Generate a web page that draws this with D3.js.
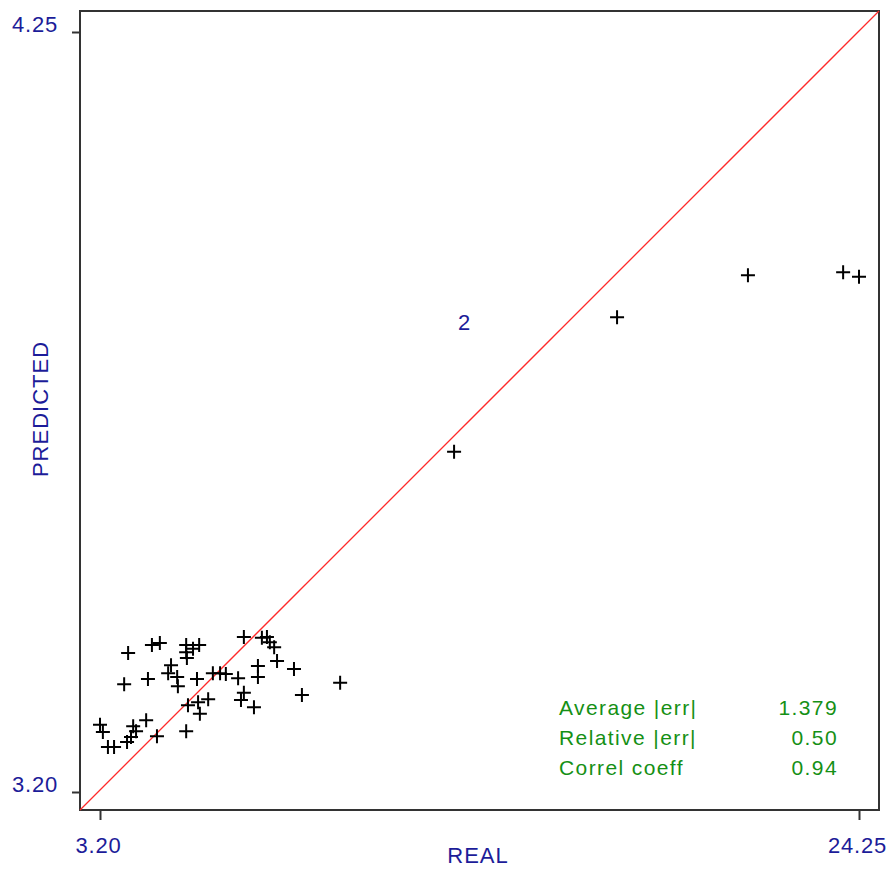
<!DOCTYPE html>
<html lang="en">

<head>
    <meta charset="UTF-8" />
    <script src="https://d3js.org/d3.v7.min.js"></script>
    <title>Predicted vs Real</title>
    <style>
        body { margin: 0; background: #fff; }
        text { font-family: "Liberation Sans", Arial, sans-serif; }
    </style>
</head>

<body>
    <script>
        // values
        var realValues = [3.98, 4.64, 4.86, 5.59, 5.78, 5.95, 5.59, 5.61, 7.19, 7.69, 7.83, 7.91, 8.03, 8.11, 7.58, 7.58,
            8.58, 9.86, 8.80, 5.17, 5.09, 5.34, 5.36, 5.89, 6.33, 6.53, 6.69, 7.03, 3.87, 4.53, 7.19, 7.11, 7.47,
            5.64, 5.92, 6.20, 5.97, 4.48, 3.20, 3.28, 4.12, 4.20, 4.06, 3.95, 3.42, 3.59, 4.78, 5.59,
            13.02, 17.54, 21.17, 23.81, 24.25];
        var predictedValues = [3.392, 3.403, 3.406, 3.403, 3.398, 3.403, 3.393, 3.385, 3.414, 3.413, 3.414, 3.407, 3.400, 3.381, 3.374, 3.359,
            3.370, 3.351, 3.334, 3.375, 3.364, 3.359, 3.346, 3.356, 3.364, 3.364, 3.363, 3.357, 3.349, 3.356, 3.337, 3.327, 3.317,
            3.320, 3.324, 3.328, 3.308, 3.299, 3.293, 3.283, 3.291, 3.284, 3.276, 3.269, 3.262, 3.262, 3.277, 3.284,
            3.670, 3.856, 3.914, 3.918, 3.912];
        var xTicks = [3.20, 24.25];
        var yTicks = [3.20, 4.25];
        var statLabels = ["Average |err|", "Relative |err|", "Correl coeff"];
        var statValues = ["1.379", "0.50", "0.94"];
        var cornerNote = "2";

        var width = 891, height = 869;
        var box = { left: 80, top: 11, right: 879, bottom: 810 };
        var blue = "#1c1c99", green = "#159015";

        var svg = d3.select("body").append("svg")
            .attr("width", width)
            .attr("height", height);

        var x = d3.scaleLinear().domain([3.20, 24.25]).range([100, 859]);
        var y = d3.scaleLinear().domain([3.20, 4.25]).range([792, 32]);
        var fmt = d3.format(".2f");

        // frame
        svg.append("rect")
            .attr("x", box.left).attr("y", box.top)
            .attr("width", box.right - box.left).attr("height", box.bottom - box.top)
            .attr("fill", "none").attr("stroke", "#333").attr("stroke-width", 2);

        // diagonal reference line, corner to corner
        svg.append("line")
            .attr("x1", box.left).attr("y1", box.bottom)
            .attr("x2", box.right).attr("y2", box.top)
            .attr("stroke", "#ff2a2a").attr("stroke-width", 1.3);

        // axes
        var yAxis = svg.append("g").attr("transform", "translate(" + box.left + ",0)")
            .call(d3.axisLeft(y).tickValues(yTicks).tickFormat(fmt).tickSize(8).tickSizeOuter(0));
        var xAxis = svg.append("g").attr("transform", "translate(0," + box.bottom + ")")
            .call(d3.axisBottom(x).tickValues(xTicks).tickFormat(fmt).tickSize(10).tickSizeOuter(0));

        [xAxis, yAxis].forEach(function (g) {
            g.select(".domain").remove();
            g.selectAll(".tick line").attr("stroke", "#333").attr("stroke-width", 2);
            g.selectAll(".tick text").attr("fill", blue).style("font-size", "22px")
                .style("letter-spacing", "0.8px")
                .style("font-family", "'Liberation Sans', Arial, sans-serif");
        });
        yAxis.selectAll(".tick text").attr("x", -22).attr("dy", "-1");
        xAxis.selectAll(".tick text").attr("y", 43).attr("dy", "0").attr("dx", -2);

        // axis titles
        svg.append("text").attr("x", 478).attr("y", 863)
            .attr("text-anchor", "middle").attr("fill", blue).style("font-size", "22px")
            .style("letter-spacing", "1px")
            .text("REAL");
        svg.append("text")
            .attr("transform", "translate(48,409) rotate(-90)")
            .attr("text-anchor", "middle").attr("fill", blue).style("font-size", "22px")
            .style("letter-spacing", "1px")
            .text("PREDICTED");

        svg.append("text").attr("x", 464).attr("y", 330)
            .attr("text-anchor", "middle").attr("fill", blue).style("font-size", "22px")
            .text(cornerNote);

        // points as plus markers
        var pts = realValues.map(function (v, i) { return { real: v, pred: predictedValues[i] }; });
        svg.append("g").selectAll("path").data(pts)
            .enter().append("path")
            .attr("transform", function (d) { return "translate(" + x(d.real) + "," + y(d.pred) + ")"; })
            .attr("d", "M-7,0H7M0,-7V7")
            .attr("stroke", "#000").attr("stroke-width", 2).attr("fill", "none");

        // stats block
        var stats = svg.append("g").selectAll("g").data(statLabels)
            .enter().append("g")
            .attr("transform", function (d, i) { return "translate(0," + (715 + i * 30) + ")"; });
        stats.append("text").attr("x", 559).attr("fill", green).style("font-size", "21px")
            .style("letter-spacing", "1.4px")
            .text(function (d) { return d; });
        stats.append("text").attr("x", 838).attr("text-anchor", "end").attr("fill", green).style("font-size", "21px")
            .style("letter-spacing", "1.4px")
            .text(function (d, i) { return statValues[i]; });
    </script>
</body>

</html>
